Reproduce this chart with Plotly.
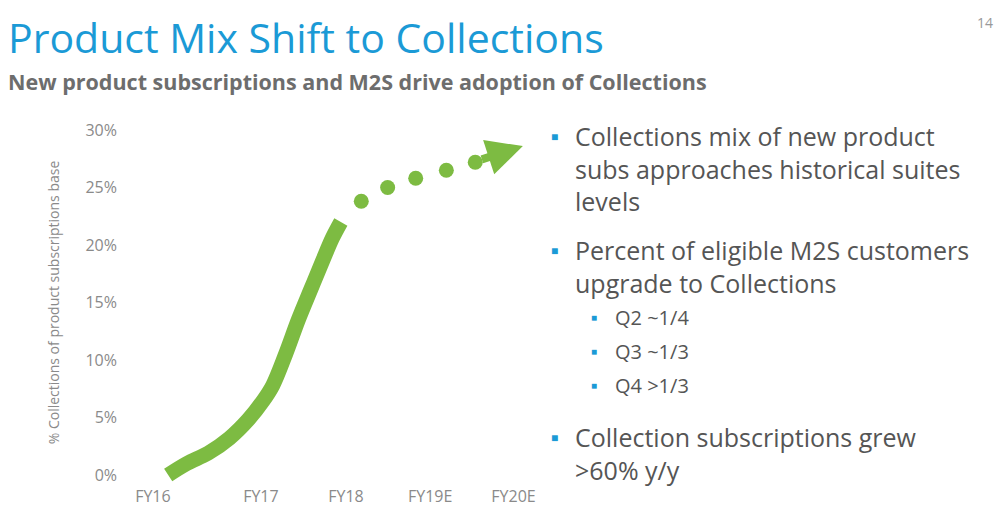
import plotly.graph_objects as go

# x in "fiscal-year units" (FY16 label at 0), y in percent
tick_pos = [0, 1.27, 2.27, 3.26, 4.24]
tick_labels = ["FY16", "FY17", "FY18", "FY19E", "FY20E"]
y_ticks = [0, 5, 10, 15, 20, 25, 30]

actual_x = [0.18, 0.4, 0.65, 0.9, 1.12, 1.3, 1.41, 1.56, 1.71, 1.86, 2.0, 2.11, 2.21]
actual_y = [0.0, 1.0, 1.9, 3.2, 4.8, 6.5, 7.8, 10.5, 13.5, 16.2, 18.7, 20.6, 22.0]

proj_x = [2.45, 2.76, 3.09, 3.45, 3.79]
proj_y = [23.8, 25.0, 25.8, 26.5, 27.2]

GREEN = "#7dbb42"
BLUE = "#1b9ad6"
GRAY = "#8a8a8a"

T, B = 112, 38
PH = 515 - T - B


def py(pix):
    return (515 - B - pix) / PH


fig = go.Figure()
fig.add_trace(go.Scatter(x=actual_x, y=actual_y, mode="lines", line=dict(color=GREEN, width=15, shape="spline"),
                         hoverinfo="skip"))
fig.add_trace(go.Scatter(x=proj_x, y=proj_y, mode="markers", marker=dict(color=GREEN, size=15),
                         hoverinfo="skip"))
fig.add_annotation(x=4.35, y=28.6, ax=3.85, ay=27.4, xref="x", yref="y", axref="x", ayref="y",
                   showarrow=True, arrowhead=2, arrowsize=0.9, arrowwidth=8, arrowcolor=GREEN, text="")

fig.update_xaxes(range=[-0.41, 4.41], tickvals=tick_pos, ticktext=tick_labels, showgrid=False,
                 zeroline=False, showline=False, tickfont=dict(size=16, color=GRAY))
fig.update_yaxes(range=[-0.87, 30.87], tickvals=y_ticks, ticktext=[f"{v}%" for v in y_ticks],
                 showgrid=False, zeroline=False, showline=False, tickfont=dict(size=16, color=GRAY),
                 title=dict(text="% Collections of product subscriptions base", font=dict(size=14, color=GRAY),
                            standoff=22))

fig.add_annotation(text="Product Mix Shift to Collections", xref="paper", yref="paper", x=-0.27, y=py(0),
                   xanchor="left", yanchor="top", showarrow=False, borderpad=0,
                   font=dict(size=41, color=BLUE))
fig.add_annotation(text="<b>New product subscriptions and M2S drive adoption of Collections</b>",
                   xref="paper", yref="paper", x=-0.27, y=py(58), xanchor="left", yanchor="top",
                   showarrow=False, borderpad=0, font=dict(size=21.5, color="#6d6d6d"))
fig.add_annotation(text="14", xref="paper", yref="paper", x=(987 - 110) / 410, y=py(14), xanchor="right",
                   yanchor="middle", showarrow=False, font=dict(size=14, color="#999999"))

bullets = [
    (565, 160, "Collections mix of new product<br>subs approaches historical suites<br>levels", 25),
    (565, 258, "Percent of eligible M2S customers<br>upgrade to Collections", 25),
    (605, 309, "Q2 ~1/4", 20),
    (605, 343, "Q3 ~1/3", 20),
    (605, 377, "Q4 >1/3", 20),
    (565, 445, "Collection subscriptions grew<br>>60% y/y", 25),
]
for px_, py_, txt, sz in bullets:
    fig.add_annotation(text=txt, xref="paper", yref="paper", x=(px_ - 110) / 410, y=py(py_),
                       xanchor="left", yanchor="middle", align="left", showarrow=False,
                       font=dict(size=sz, color="#555555"))
    top = py_ - (sz * 1.25 * (txt.count("<br>")) / 2)
    fig.add_annotation(text="■", xref="paper", yref="paper", x=(px_ - 24 - 110) / 410, y=py(top),
                       xanchor="left", yanchor="middle", showarrow=False,
                       font=dict(size=12 if sz > 20 else 10, color=BLUE))

fig.update_layout(width=1006, height=515, margin=dict(l=110, r=486, t=T, b=B),
                  paper_bgcolor="white", plot_bgcolor="white", showlegend=False,
                  font=dict(family="Open Sans"))
fig.write_html("out.html")
